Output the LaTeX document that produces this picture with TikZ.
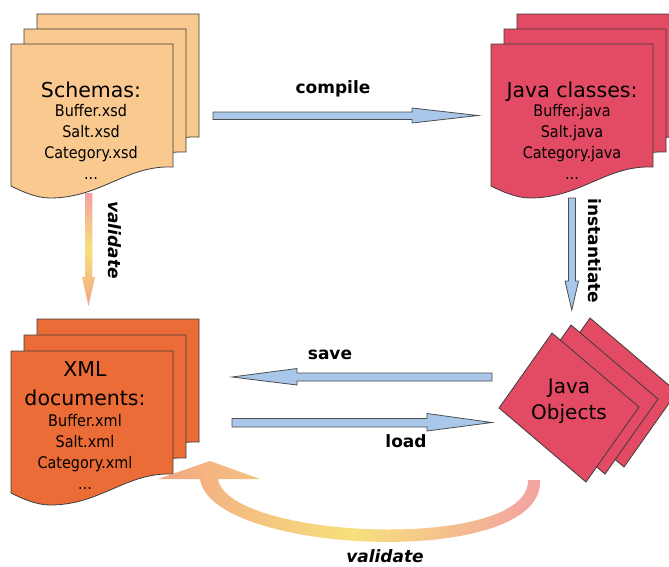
\documentclass[tikz,border=0pt]{standalone}
\usepackage{fontspec}
\setmainfont{DejaVu Sans}
\newfontfamily\condfont[FakeStretch=0.9]{DejaVu Sans}
\definecolor{schemafill}{HTML}{F9C98F}
\definecolor{javafill}{HTML}{E24B63}
\definecolor{xmlfill}{HTML}{EC6C37}
\definecolor{sheetedge}{HTML}{3C3C3C}
\definecolor{arrowblue}{HTML}{A9C7E8}
\definecolor{arrowedge}{HTML}{4D4D4D}
\definecolor{valpink}{HTML}{F3A0A2}
\definecolor{valyellow}{HTML}{F6E07C}
\definecolor{valsalmon}{HTML}{F3A585}
\tikzset{
  sheet/.style={draw=sheetedge, line width=0.8pt, line join=miter},
  blk/.style={fill=arrowblue, draw=arrowedge, line width=0.8pt, line join=miter},
  titletext/.style={anchor=base, inner sep=0pt, font=\fontsize{20.5}{24}\selectfont},
  listtext/.style={anchor=base, inner sep=0pt, align=center, font=\condfont\fontsize{16}{21}\selectfont},
  lbl/.style={inner sep=0pt, font=\fontsize{17}{20}\selectfont\bfseries},
  ilbl/.style={inner sep=0pt, font=\fontsize{17}{20}\selectfont\bfseries\itshape}
}
\newcommand\docsheet[3]{\begin{scope}[shift={(#1,#2)}]
  \filldraw[sheet, fill=#3] (0,0) -- (162,0) -- (162,123)
    .. controls (115,121) and (90,154) .. (39,154)
    .. controls (25,154) and (10,147) .. (0,142) -- cycle;
\end{scope}}
\newcommand\diamondsheet[2]{\begin{scope}[shift={(#1,#2)}]
  \filldraw[sheet, fill=javafill] (499,408) -- (552,333) -- (639,407) -- (586,482) -- cycle;
\end{scope}}
\begin{document}
\begin{tikzpicture}[x=1pt, y=-1pt]
\useasboundingbox[fill=white] (0,0) rectangle (669,566);

% Schemas stack
\docsheet{37}{14}{schemafill}
\docsheet{24}{29}{schemafill}
\docsheet{11}{44}{schemafill}
\node[titletext] (schT) at (91,97) {Schemas:};
\node[listtext] (schL) at (91,179) {Buffer.xsd\\Salt.xsd\\Category.xsd\\...};

% Java classes stack
\docsheet{517}{14}{javafill}
\docsheet{504}{29}{javafill}
\docsheet{491}{44}{javafill}
\node[titletext] (jcT) at (572,97) {Java classes:};
\node[listtext] (jcL) at (572,179) {Buffer.java\\Salt.java\\Category.java\\...};

% XML documents stack
\docsheet{37}{319}{xmlfill}
\docsheet{24}{335}{xmlfill}
\docsheet{11}{351}{xmlfill}
\node[titletext, align=center, font=\fontsize{20.5}{28.5}\selectfont] (xmlT) at (85,405) {XML\\documents:};
\node[listtext] (xmlL) at (85,489) {Buffer.xml\\Salt.xml\\Category.xml\\...};

% Java objects stack
\diamondsheet{38}{-15}
\diamondsheet{19}{-8}
\diamondsheet{0}{0}
\node[titletext, align=center, font=\fontsize{20}{26}\selectfont] (jo) at (569,419) {Java\\Objects};

% compile arrow
\filldraw[blk] (213,112) -- (412,112) -- (412,108) -- (478,115.5) -- (412,123) -- (412,119.5) -- (213,119.5) -- cycle;
\node[lbl, anchor=base] (compileL) at (333,93) {compile};

% save arrow
\filldraw[blk] (492,373) -- (297,373) -- (297,368.5) -- (232,377) -- (297,385) -- (297,381) -- (492,381) -- cycle;
\node[lbl, anchor=base] (saveL) at (330,359) {save};

% load arrow
\filldraw[blk] (232,418.5) -- (427,418.5) -- (427,413.5) -- (492,422.5) -- (427,431) -- (427,427) -- (232,427) -- cycle;
\node[lbl, anchor=base] (loadL) at (406,447) {load};

% instantiate arrow
\filldraw[blk] (568.5,198) -- (575.5,198) -- (575.5,281) -- (578.5,281) -- (571.8,310) -- (565,281) -- (568.5,281) -- cycle;
\node[lbl, rotate=-90] (instL) at (595,251) {instantiate};

% validate vertical arrow
\shade[top color=valpink, bottom color=valsalmon, middle color=valyellow]
  (85,193) -- (92.3,193) -- (92.3,277) -- (95,277) -- (88.5,306) -- (82,277) -- (85,277) -- cycle;
\node[ilbl, rotate=-90] (valL1) at (115,240) {validate};

% validate curved arrow
\shade[left color=valsalmon, right color=valpink, middle color=valyellow]
  (200,479) .. controls (210,555) and (545,570) .. (540,480)
  -- (528,480) .. controls (530,552) and (228,540) .. (218,479)
  -- (260,479) -- (210,461) -- (158,479) -- cycle;
\node[ilbl, anchor=base] (valL2) at (385,562) {validate};
\end{tikzpicture}
\end{document}
